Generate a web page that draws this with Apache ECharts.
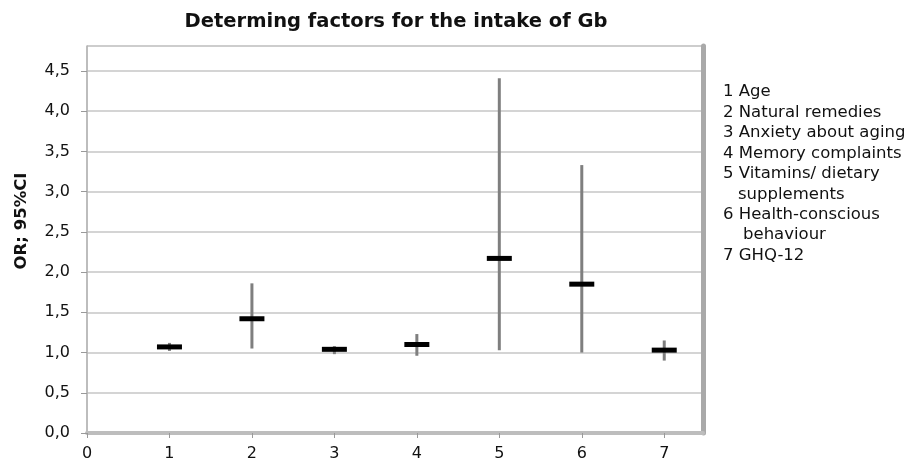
<!DOCTYPE html>
<html>
<head>
<meta charset="utf-8">
<script src="https://cdn.jsdelivr.net/npm/echarts@6/dist/echarts.min.js"></script>
<style>
html,body{margin:0;padding:0;background:#fff;}
#chart{width:909px;height:462px;}
</style>
</head>
<body>
<div id="chart"></div>
<script>
// ---- data ----
var titleText = 'Determing factors for the intake of Gb';
var yAxisName = 'OR; 95%CI';
var categories = [1, 2, 3, 4, 5, 6, 7];
var orValues = [1.07, 1.42, 1.04, 1.10, 2.17, 1.85, 1.03];
var ciLower  = [1.02, 1.05, 0.98, 0.96, 1.03, 1.00, 0.90];
var ciUpper  = [1.12, 1.86, 1.08, 1.23, 4.41, 3.33, 1.15];
var legendLines = [
  '1 Age',
  '2 Natural remedies',
  '3 Anxiety about aging',
  '4 Memory complaints',
  '5 Vitamins/ dietary',
  '   supplements',
  '6 Health-conscious',
  '    behaviour',
  '7 GHQ-12'
];

var FONT = 'DejaVu Sans';
var chart = echarts.init(document.getElementById('chart'), null, {renderer: 'canvas'});

var scatterData = categories.map(function (c, i) { return [c, orValues[i]]; });
var ciData = categories.map(function (c, i) { return [c, ciLower[i], ciUpper[i]]; });

var legendGraphics = legendLines.map(function (t, i) {
  var indent = /^\s+/.test(t);
  return {
    type: 'text',
    x: indent ? (t.indexOf('b') > 0 ? 743 : 738) : 723,
    y: 92 + i * 20.45,
    style: {
      text: t.trim(),
      font: '16.5px "' + FONT + '"',
      fill: '#111',
      textVerticalAlign: 'middle',
      textAlign: 'left'
    }
  };
});

function isHalf(v) { return Math.abs(v * 2 - Math.round(v * 2)) < 1e-6; }

var option = {
  backgroundColor: '#ffffff',
  animation: false,
  textStyle: {fontFamily: FONT},
  grid: {
    left: 87, right: 206, top: 46, bottom: 28,
    show: true, borderColor: '#c4c4c4', borderWidth: 1, backgroundColor: '#ffffff'
  },
  xAxis: {
    type: 'value', min: 0, max: 7.47, interval: 1,
    axisLine: {show: true, onZero: false, lineStyle: {color: '#bdbdbd', width: 4}},
    axisTick: {show: true, length: 5, lineStyle: {color: '#999', width: 1}},
    splitLine: {show: false},
    axisLabel: {
      margin: 13, fontSize: 16, color: '#111', fontFamily: FONT,
      showMaxLabel: false,
      formatter: function (v) { return Math.abs(v - Math.round(v)) < 1e-6 ? String(Math.round(v)) : ''; }
    }
  },
  yAxis: [{
    type: 'value', min: 0, max: 4.81, interval: 0.5,
    axisLine: {show: true, lineStyle: {color: '#b0b0b0', width: 1.5}},
    axisTick: {show: true, length: 6, lineStyle: {color: '#999', width: 1}},
    splitLine: {show: true, lineStyle: {color: '#c6c6c6', width: 1.5}},
    axisLabel: {
      margin: 17, fontSize: 16, color: '#111', fontFamily: FONT,
      showMaxLabel: false,
      formatter: function (v) { return isHalf(v) ? v.toFixed(1).replace('.', ',') : ''; }
    }
  }, {
    type: 'value', min: 0, max: 4.81, position: 'right', offset: 0,
    axisLine: {show: true, lineStyle: {color: '#a9a9a9', width: 5}},
    axisTick: {show: false}, axisLabel: {show: false}, splitLine: {show: false}
  }],
  series: [{
    type: 'custom',
    z: 2,
    data: ciData,
    renderItem: function (params, api) {
      var x = api.value(0);
      var p1 = api.coord([x, api.value(1)]);
      var p2 = api.coord([x, api.value(2)]);
      return {
        type: 'line',
        shape: {x1: p1[0], y1: p1[1], x2: p2[0], y2: p2[1]},
        style: {stroke: '#7f7f7f', lineWidth: 3}
      };
    }
  }, {
    type: 'scatter',
    z: 3,
    symbol: 'rect',
    symbolSize: [25, 5],
    itemStyle: {color: '#000000', opacity: 1},
    data: scatterData
  }],
  graphic: [{
    type: 'text', x: 396, y: 22,
    style: {
      text: titleText, font: 'bold 19.5px "' + FONT + '"', fill: '#111',
      textAlign: 'center', textVerticalAlign: 'middle'
    }
  }, {
    type: 'text', x: 22, y: 221, rotation: Math.PI / 2,
    style: {
      text: yAxisName, font: 'bold 16.5px "' + FONT + '"', fill: '#111',
      textAlign: 'center', textVerticalAlign: 'middle'
    }
  }].concat(legendGraphics)
};
chart.setOption(option);
</script>
</body>
</html>
